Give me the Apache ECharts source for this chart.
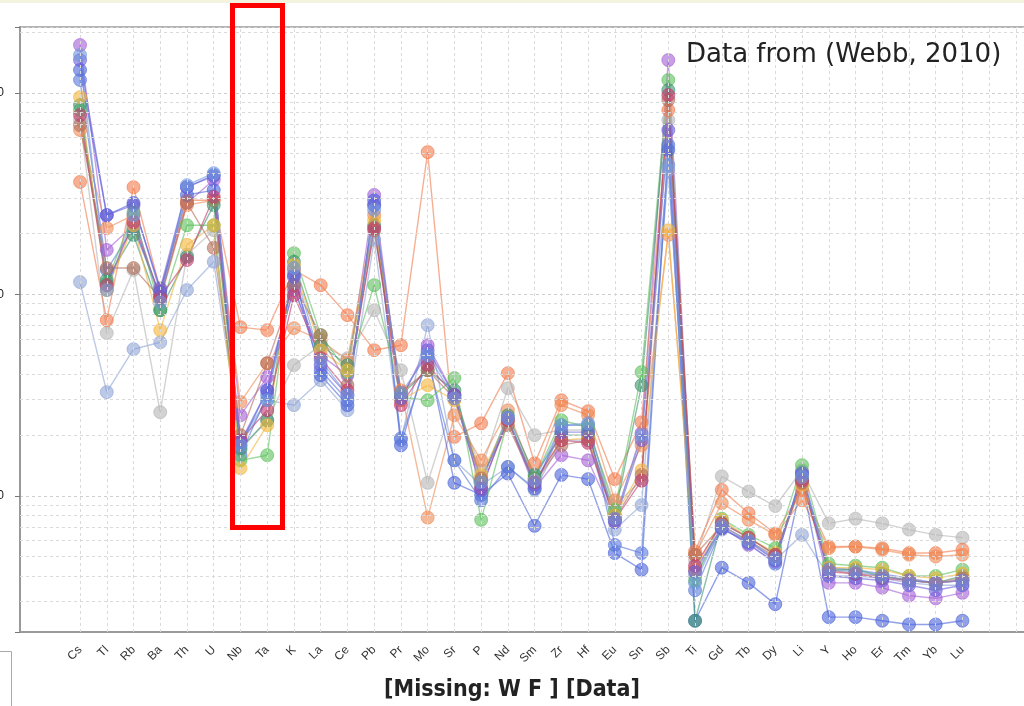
<!DOCTYPE html>
<html>
<head>
<meta charset="utf-8">
<title>Spider diagram</title>
<script src="https://cdn.jsdelivr.net/npm/echarts@6/dist/echarts.min.js"></script>
<style>
    html, body { margin: 0; padding: 0; background: #fff; }
    #spider { width: 1024px; height: 706px; }
</style>
</head>
<body>
<div id="spider"></div>
<script>
var elements = ['Cs', 'Tl', 'Rb', 'Ba', 'Th', 'U', 'Nb', 'Ta', 'K', 'La', 'Ce', 'Pb', 'Pr', 'Mo', 'Sr', 'P', 'Nd', 'Sm',
    'Zr', 'Hf', 'Eu', 'Sn', 'Sb', 'Ti', 'Gd', 'Tb', 'Dy', 'Li', 'Y', 'Ho', 'Er', 'Tm', 'Yb', 'Lu'];

// normalised concentrations, one array per sample
var sample1 = [1725, 166, 220, 97, 284, 369, 25.1, 38.8, 105, 49.9, 39.7, 311, 29.8, 55.9, 31.6, 11.9, 23.7, 10.9, 15.9, 15.0, 7.6, 20.5, 1453, 4.3, 7.0, 5.7, 4.7, 12.7, 3.7, 3.7, 3.5, 3.2, 3.1, 3.3];
var sample2 = [115, 32.7, 53.4, 57.8, 105, 145, 18.9, 29.8, 28.2, 37.5, 26.6, 186, 18.9, 70.3, 15.0, 11.3, 13.9, 10.7, 18.9, 18.9, 6.8, 9.0, 413, 4.0, 6.8, 6.0, 4.8, 6.4, 4.0, 4.0, 3.9, 3.7, 3.6, 3.6];
var sample3 = [732, 64.2, 132, 26.0, 157, 208, 16.9, 23.7, 44.5, 55.9, 48.2, 83.4, 42.0, 11.6, 30.5, 13.4, 34.2, 20.0, 21.2, 21.2, 9.0, 11.9, 732, 4.8, 12.5, 10.5, 8.9, 13.4, 7.3, 7.7, 7.3, 6.8, 6.4, 6.2];
var sample4 = [361, 74.4, 340, 105, 293, 293, 68.7, 66.4, 132, 111, 78.8, 52.8, 55.9, 508, 19.6, 22.9, 40.6, 14.5, 29.8, 26.3, 12.1, 23.2, 820, 5.3, 10.7, 8.2, 6.5, 10.7, 5.6, 5.6, 5.5, 5.2, 5.2, 5.4];
var sample5 = [653, 213, 247, 93.5, 277, 293, 29.2, 45.5, 67.9, 59.2, 47.1, 247, 33.4, 7.8, 25.1, 15.0, 26.6, 12.2, 28.2, 25.1, 9.5, 17.8, 197, 5.1, 9.2, 7.6, 6.4, 9.5, 5.5, 5.6, 5.4, 5.1, 5.0, 5.1];
var sample6 = [1297, 247, 284, 103, 311, 329, 17.8, 33.4, 125, 39.7, 28.2, 293, 17.8, 49.9, 11.6, 10.1, 12.9, 7.1, 12.7, 12.1, 5.2, 4.3, 520, 2.4, 4.4, 3.7, 2.9, 11.9, 2.5, 2.5, 2.4, 2.3, 2.3, 2.4];
var sample7 = [1157, 132, 213, 99, 340, 391, 15.9, 31.6, 111, 42.0, 29.8, 277, 19.3, 47.1, 15.0, 9.5, 13.9, 10.9, 22.4, 22.4, 5.7, 5.2, 550, 3.4, 6.9, 5.8, 4.6, 13.1, 4.4, 4.3, 4.1, 3.9, 3.7, 3.8];
var sample8 = [820, 114, 256, 83.4, 220, 220, 15.0, 15.9, 160, 62.7, 41.1, 111, 30.9, 29.8, 38.4, 7.6, 23.7, 12.2, 23.7, 21.9, 8.5, 41.1, 1157, 3.8, 7.7, 6.4, 5.5, 14.2, 4.6, 4.5, 4.4, 4.0, 4.0, 4.3];
var sample9 = [869, 118, 197, 83.4, 153, 277, 17.2, 23.7, 145, 55.9, 44.5, 220, 31.6, 42.0, 33.4, 11.9, 25.1, 12.7, 20.0, 20.0, 8.0, 35.4, 1031, 2.4, 7.4, 6.2, 5.1, 12.2, 4.3, 4.3, 4.0, 3.8, 3.7, 4.0];
var sample10 = [952, 105, 220, 66.4, 176, 220, 13.7, 22.4, 140, 52.8, 42.0, 233, 29.8, 35.4, 29.8, 12.7, 23.7, 11.9, 18.9, 19.3, 8.0, 13.4, 208, 4.3, 7.6, 6.2, 5.2, 11.3, 4.4, 4.4, 4.3, 4.0, 3.9, 4.1];
var sample11 = [691, 135, 135, 96, 284, 170, 20.0, 45.5, 111, 62.7, 35.4, 208, 32.7, 42.0, 30.5, 12.2, 22.4, 11.6, 17.8, 18.9, 7.7, 12.7, 920, 5.1, 7.1, 6.0, 5.0, 11.6, 4.3, 4.1, 4.0, 3.8, 3.7, 3.9];
var sample12 = [775, 111, 228, 97, 148, 304, 18.9, 26.6, 99, 48.2, 33.4, 213, 28.2, 44.5, 31.6, 10.9, 23.7, 11.7, 18.9, 18.3, 7.6, 11.9, 974, 4.5, 7.3, 6.2, 5.1, 11.9, 4.2, 4.1, 3.9, 3.8, 3.7, 3.8];
var sample13 = [1453, 247, 277, 107, 340, 386, 18.5, 33.4, 122, 44.5, 31.6, 277, 30.5, 52.8, 31.6, 10.7, 24.3, 11.3, 20.7, 20.7, 7.4, 18.9, 653, 4.2, 6.9, 5.9, 4.8, 12.9, 4.0, 3.9, 3.8, 3.6, 3.4, 3.6];
var sample14 = [1538, 105, 247, 91.5, 348, 399, 17.8, 29.8, 135, 47.1, 31.6, 262, 32.3, 49.9, 30.5, 11.7, 24.3, 11.9, 22.4, 22.9, 7.7, 20.0, 438, 3.7, 7.1, 6.0, 4.9, 12.4, 4.3, 4.2, 4.0, 3.8, 3.7, 3.8];

var samples = [sample1, sample2, sample3, sample4, sample5, sample6, sample7,
    sample8, sample9, sample10, sample11, sample12, sample13, sample14];
var sampleColors = ['#a35fd6', '#8da3d6', '#b4b4b4', '#f2794b', '#ee8a55', '#4a63d8', '#5a78dc',
    '#5cbf5c', '#3d9470', '#f3b43a', '#b3705c', '#c23a6e', '#6a5fd8', '#6f98dc'];

(function () {
    var myChart = echarts.init(document.getElementById('spider'));

    // dashed grid: one line per element column, minor lines at 2..9 of each decade
    var gridLines = [];
    for (var i = 0; i <= 35; i++) {
        gridLines.push({ xAxis: i });
    }
    [1, 10, 100, 1000].forEach(function (dec) {
        for (var m = 2; m <= 9; m++) {
            if (dec * m > 2.11 && dec * m < 2120) gridLines.push({ yAxis: dec * m });
        }
    });

    var series = samples.map(function (vals, k) {
        return {
            name: 'sample' + (k + 1),
            type: 'line',
            data: vals.map(function (v, idx) { return [idx, v]; }),
            symbol: 'circle',
            symbolSize: 13,
            z: 3,
            itemStyle: {
                color: sampleColors[k],
                opacity: 0.6,
                borderColor: sampleColors[k],
                borderWidth: 1
            },
            lineStyle: {
                color: sampleColors[k],
                width: 1.4,
                opacity: 0.6
            },
            emphasis: { disabled: true }
        };
    });
    series.unshift({
        name: 'grid',
        type: 'line',
        data: [],
        silent: true,
        z: 1,
        markLine: {
            silent: true,
            symbol: ['none', 'none'],
            label: { show: false },
            lineStyle: { color: '#dadada', type: [3, 3], width: 1 },
            emphasis: { disabled: true },
            animation: false,
            data: gridLines
        }
    });

    var option = {
        backgroundColor: '#fff',
        animation: false,
        title: {
            text: '[Missing: W F ] [Data]',
            left: 'center',
            top: 674,
            textStyle: {
                fontFamily: '"Liberation Sans Narrow", "DejaVu Sans Condensed", "Liberation Sans", sans-serif',
                fontWeight: 'bold',
                fontSize: 23,
                color: '#222'
            }
        },
        grid: {
            left: 20,
            top: 27,
            width: 1020,
            height: 605,
            containLabel: false,
            outerBoundsMode: 'none',
            show: true,
            borderColor: '#9a9a9a',
            borderWidth: 1.5
        },
        xAxis: {
            type: 'value',
            min: -2.245,
            max: 35.9,
            minInterval: 1,
            maxInterval: 1,
            axisLine: { show: true, onZero: false, lineStyle: { color: '#999', width: 2 } },
            axisTick: { show: false },
            splitLine: { show: false },
            axisLabel: {
                rotate: 45,
                margin: 16,
                fontSize: 12,
                fontFamily: '"Liberation Sans", Arial, sans-serif',
                color: '#333',
                formatter: function (v) {
                    return (Math.round(v) === v && elements[v]) ? elements[v] : '';
                }
            }
        },
        yAxis: {
            type: 'log',
            logBase: 10,
            min: 2.11,
            max: 2120,
            axisLine: { show: true, onZero: false, lineStyle: { color: '#999', width: 2 } },
            axisTick: { show: true, length: 5, lineStyle: { color: '#777' } },
            splitLine: { show: true, lineStyle: { color: '#cfcfcf', type: [3, 3] } },
            axisLabel: {
                margin: 16,
                fontSize: 12,
                fontFamily: '"Liberation Sans", Arial, sans-serif',
                color: '#222',
                formatter: function (v) {
                    var e = Math.log10(v);
                    return Math.abs(e - Math.round(e)) < 1e-6 ? String(Math.round(v)) : '';
                }
            }
        },
        graphic: [
            {
                type: 'rect',
                shape: { x: 0, y: 0, width: 1024, height: 3 },
                style: { fill: '#f3f3df' },
                silent: true
            },
            {
                type: 'text',
                left: 686,
                top: 42,
                style: {
                    text: 'Data from (Webb, 2010)',
                    font: '26px "DejaVu Sans", sans-serif',
                    fill: '#222'
                },
                z: 10
            },
            {
                type: 'rect',
                shape: { x: 232.5, y: 5.5, width: 50, height: 522 },
                style: { fill: 'none', stroke: '#ff0000', lineWidth: 5 },
                z: 20,
                silent: true
            },
            {
                type: 'rect',
                shape: { x: -2, y: 651.5, width: 13.5, height: 60 },
                style: { fill: 'none', stroke: '#aaa', lineWidth: 1 },
                silent: true
            }
        ],
        series: series
    };

    myChart.setOption(option);
    window.addEventListener("resize", function () {
        myChart.resize();
    });
})();
</script>
</body>
</html>
